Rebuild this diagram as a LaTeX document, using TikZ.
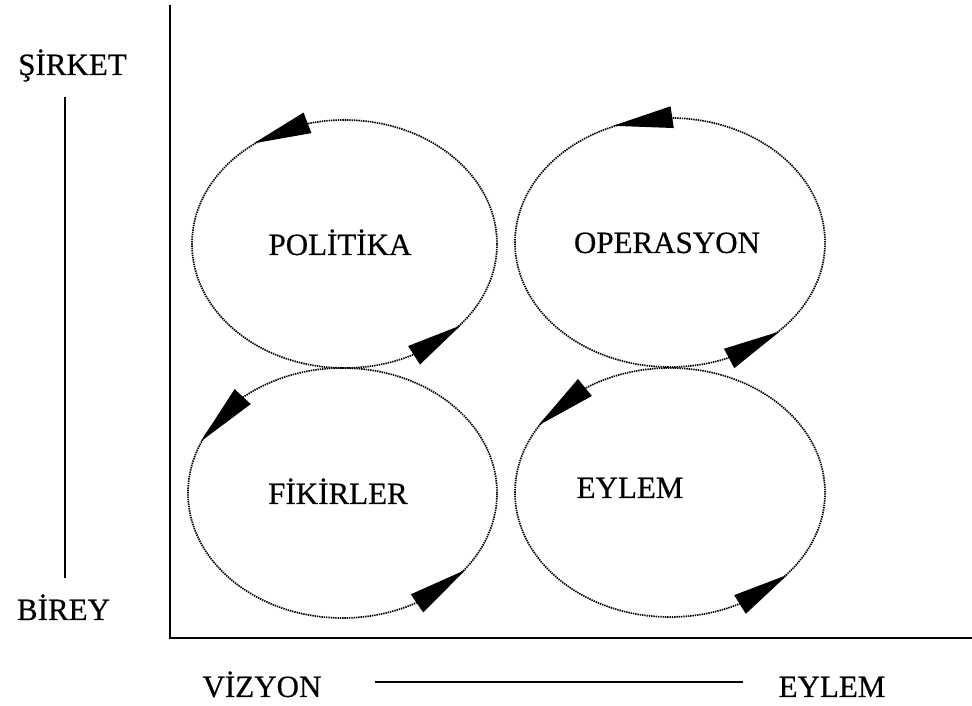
\documentclass[tikz,border=0pt]{standalone}
\usepackage{fontspec}
\setmainfont{Liberation Serif}[FakeBold=0.5]
\usetikzlibrary{shapes.geometric,calc}

\tikzset{
  axis/.style={line width=2.6pt},
  guide/.style={line width=1.9pt},
  cycle/.style={ellipse, draw, inner sep=0pt, line width=1.7pt,
                dash pattern=on 1.4pt off 0.9pt},
  lbl/.style={inner sep=0pt, font=\fontsize{31}{31}\selectfont, anchor=base},
  wedge/.style={fill=black},
}

% filled wedge: tip on the border of node #1 at angle #2, base centred at angle #3
\newcommand\cyclewedge[3]{%
  \fill[wedge] (#1.#2) -- ($(#1.#3)!11pt!90:(#1.#2)$)
               -- ($(#1.#3)!11pt!-90:(#1.#2)$) -- cycle;}

\begin{document}
\begin{tikzpicture}[x=1pt,y=1pt]
\useasboundingbox (0,0) rectangle (972,706);

% axes
\coordinate (ytop) at (170,701);
\coordinate (origin) at (170,68);
\coordinate (xend) at (972,68);
\draw[axis] (ytop) -- (origin) -- (xend);

% vertical scale: company / individual
\node[lbl] (sirket) at (72.5,631) {ŞİRKET};
\node[lbl] (birey) at (63.5,86) {BİREY};
\coordinate (vs1) at (65,609);
\coordinate (vs2) at (65,128);
\draw[guide] (vs1) -- (vs2);

% horizontal scale: vision / action
\node[lbl] (vizyon) at (262,9) {VİZYON};
\node[lbl] (eylemx) at (832,9) {EYLEM};
\coordinate (hs1) at (375,24);
\coordinate (hs2) at (743,24);
\draw[guide] (hs1) -- (hs2);

% four cycles
\node[cycle, minimum width=305pt, minimum height=248pt] (pol) at (344.5,462) {};
\node[cycle, minimum width=310pt, minimum height=249pt] (ope) at (670,463.5) {};
\node[cycle, minimum width=309pt, minimum height=250pt] (fik) at (342.5,213) {};
\node[cycle, minimum width=310pt, minimum height=249pt] (eyl) at (670,213.5) {};

\node[lbl] (politika) at (340,451) {POLİTİKA};
\node[lbl] (operasyon) at (667,453) {OPERASYON};
\node[lbl] (fikirler) at (338,202) {FİKİRLER};
\node[lbl] (eylem) at (630,208) {EYLEM};

% direction wedges
\cyclewedge{pol}{132.3}{107.5}
\cyclewedge{pol}{325.4}{302.1}
\cyclewedge{ope}{116.3}{89.8}
\cyclewedge{ope}{321.3}{297.7}
\cyclewedge{fik}{160.4}{136.9}
\cyclewedge{fik}{328.3}{304.1}
\cyclewedge{eyl}{153.6}{129.8}
\cyclewedge{eyl}{325.9}{302.5}
\end{tikzpicture}
\end{document}
